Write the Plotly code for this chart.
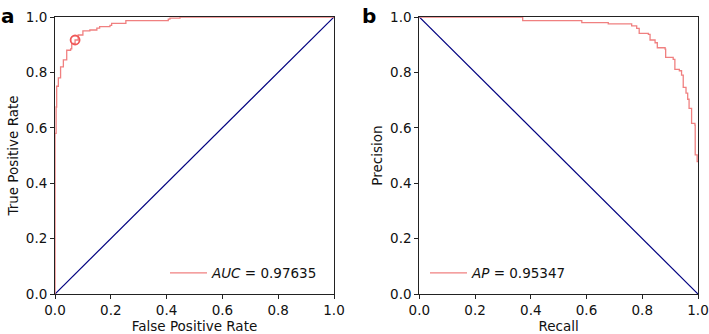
import plotly.graph_objects as go

# ROC curve (panel a)
roc_fpr = [0.0, 0.0, 0.004, 0.006, 0.012, 0.02, 0.03, 0.042, 0.056, 0.06, 0.072, 0.083, 0.10,
           0.125, 0.15, 0.16, 0.197, 0.203, 0.254, 0.406, 0.412, 0.448, 1.0]
roc_tpr = [0.0, 0.58, 0.675, 0.75, 0.78, 0.82, 0.845, 0.88, 0.885, 0.905, 0.917, 0.935, 0.95,
           0.953, 0.96, 0.965, 0.97, 0.977, 0.987, 0.992, 0.996, 1.0, 1.0]
roc_point_fpr = [0.072]
roc_point_tpr = [0.917]
auc_label = "<i>AUC</i> = 0.97635"

# Precision-recall curve (panel b)
pr_recall = [0.0, 0.371, 0.583, 0.678, 0.75, 0.762, 0.78, 0.789, 0.822, 0.828, 0.846, 0.854,
             0.882, 0.884, 0.911, 0.917, 0.933, 0.941, 0.947, 0.957, 0.963, 0.968, 0.977,
             0.989, 0.99, 0.997, 1.0]
pr_precision = [1.0, 0.987, 0.98, 0.975, 0.975, 0.968, 0.959, 0.941, 0.937, 0.917, 0.907, 0.889,
                0.884, 0.854, 0.847, 0.811, 0.806, 0.79, 0.746, 0.725, 0.703, 0.67, 0.616,
                0.61, 0.502, 0.478, 0.478]
ap_label = "<i>AP</i> = 0.95347"

diag_x = [0.0, 1.0]
diag_roc_y = [0.0, 1.0]
diag_pr_y = [1.0, 0.0]

ticks = [0.0, 0.2, 0.4, 0.6, 0.8, 1.0]
tick_text = ["0.0", "0.2", "0.4", "0.6", "0.8", "1.0"]

RED = "#f08080"
NAVY = "#000080"
FONT = "DejaVu Sans"

fig = go.Figure()

fig.add_trace(go.Scatter(x=diag_x, y=diag_roc_y, mode="lines", line=dict(color=NAVY, width=1.2),
                         xaxis="x", yaxis="y", showlegend=False, hoverinfo="skip"))
fig.add_trace(go.Scatter(x=roc_fpr, y=roc_tpr, mode="lines", line=dict(color=RED, width=1.3, shape="hv"),
                         xaxis="x", yaxis="y", name=auc_label, legend="legend"))
fig.add_trace(go.Scatter(x=roc_point_fpr, y=roc_point_tpr, mode="markers",
                         marker=dict(symbol="circle-open", size=9, color="#f05858", line=dict(width=1.8)),
                         xaxis="x", yaxis="y", showlegend=False))

fig.add_trace(go.Scatter(x=diag_x, y=diag_pr_y, mode="lines", line=dict(color=NAVY, width=1.2),
                         xaxis="x2", yaxis="y2", showlegend=False, hoverinfo="skip"))
fig.add_trace(go.Scatter(x=pr_recall, y=pr_precision, mode="lines", line=dict(color=RED, width=1.3, shape="hv"),
                         xaxis="x2", yaxis="y2", name=ap_label, legend="legend2"))

W, H = 709, 334
ydom = [40 / H, 317 / H]
TF = 13.5

axis_common = dict(range=[0, 1], showgrid=False, zeroline=False, showline=True, mirror=True,
                   automargin=False,
                   linecolor="#222", linewidth=1, ticks="outside", ticklen=4, tickcolor="#222",
                   tickwidth=1, tickvals=ticks, ticktext=tick_text,
                   tickfont=dict(family=FONT, size=TF, color="#111"))

fig.update_layout(
    width=W, height=H,
    margin=dict(l=0, r=0, t=0, b=0, autoexpand=False),
    paper_bgcolor="white", plot_bgcolor="white",
    font=dict(family=FONT, color="#111"),
    xaxis=dict(axis_common, domain=[55 / W, 334 / W], anchor="y",
               title=dict(text="False Positive Rate", font=dict(family=FONT, size=TF), standoff=4)),
    yaxis=dict(axis_common, domain=ydom, anchor="x",
               title=dict(text="True Positive Rate", font=dict(family=FONT, size=TF), standoff=4)),
    xaxis2=dict(axis_common, domain=[419.3 / W, 698 / W], anchor="y2",
                title=dict(text="Recall", font=dict(family=FONT, size=TF), standoff=4)),
    yaxis2=dict(axis_common, domain=ydom, anchor="x2",
                title=dict(text="Precision", font=dict(family=FONT, size=TF), standoff=4)),
    legend=dict(x=165 / W, y=(334 - 273) / H, xanchor="left", yanchor="middle", itemwidth=37,
                bgcolor="rgba(0,0,0,0)", font=dict(family=FONT, size=13.5)),
    legend2=dict(x=425 / W, y=(334 - 273) / H, xanchor="left", yanchor="middle", itemwidth=37,
                 bgcolor="rgba(0,0,0,0)", font=dict(family=FONT, size=13.5)),
    annotations=[
        dict(text="<b>a</b>", x=-1 / W, y=1 - 2 / H, xref="paper", yref="paper", xanchor="left", yanchor="top",
             showarrow=False, font=dict(family=FONT, size=20, color="black")),
        dict(text="<b>b</b>", x=360 / W, y=1 - 2 / H, xref="paper", yref="paper", xanchor="left", yanchor="top",
             showarrow=False, font=dict(family=FONT, size=20, color="black")),
    ],
)

fig.write_html("out.html",
               config={"displayModeBar": False},
               post_script="document.body.style.margin='0';document.body.style.padding='0';document.body.style.overflow='hidden';")
